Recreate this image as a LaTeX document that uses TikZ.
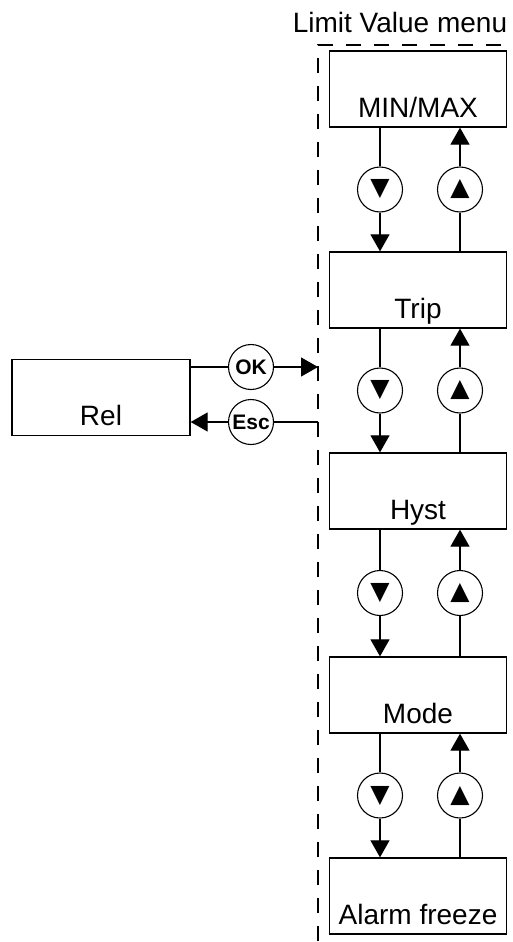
\documentclass[tikz,border=0pt]{standalone}
\usepackage{fontspec}
\setmainfont{Liberation Sans}
\newfontfamily\symfont{DejaVu Sans}
\usetikzlibrary{arrows.meta}

\begin{document}
\begin{tikzpicture}[x=1pt,y=-1pt,
  box/.style={draw,line width=1.3pt,minimum width=177pt,inner sep=0pt,
    text height=66pt,text depth=10pt,font=\fontsize{28}{30}\selectfont},
  key/.style={draw,circle,line width=1.1pt,minimum size=45pt,inner sep=0pt},
  conn/.style={line width=1.2pt},
  tip/.style={-{Triangle[length=17pt,width=19pt]}}]
  \useasboundingbox (0,0) rectangle (513,942);

  % menu frame
  \coordinate (frmB) at (318,941);
  \coordinate (frmL) at (318,45);
  \coordinate (frmR) at (507,45);
  \draw[line width=1.3pt,dash pattern=on 15pt off 13pt] (frmB) -- (frmL) -- (frmR);
  \node[font=\fontsize{28}{30}\selectfont,anchor=base] (title) at (400,33) {Limit Value menu};

  \foreach \n/\t/\y in {mm/{MIN/MAX}/89,trip/Trip/290,hyst/Hyst/491,mode/Mode/695,alarm/{Alarm freeze}/896}
    \node[box] (\n) at (418,\y) {\t};

  \coordinate (dnx) at (380,0);
  \coordinate (upx) at (460,0);
  \foreach \a/\b in {mm/trip,trip/hyst,hyst/mode,mode/alarm} {
    \path (\a.south) -- coordinate (m\a) (\b.north);
    \node[key,font=\symfont\fontsize{25}{26}\selectfont] (dn\a) at (dnx |- m\a) {▼};
    \node[key,font=\symfont\fontsize{25}{26}\selectfont] (up\a) at (upx |- m\a) {▲};
    \draw[conn,tip] (dnx |- \a.south) -- (dn\a) -- (dnx |- \b.north);
    \draw[conn,tip] (upx |- \b.north) -- (up\a) -- (upx |- \a.south);
  }

  % Rel and its keys
  \node[box,minimum width=178pt] (rel) at (101,397.5) {Rel};
  \node[key,font=\bfseries\fontsize{21}{22}\selectfont] (ok) at (251,367) {OK};
  \node[key,font=\bfseries\fontsize{21}{22}\selectfont] (esc) at (251,422) {Esc};
  \coordinate (mnuIn) at (318,367);
  \coordinate (mnuOut) at (318,422);
  \draw[conn] (rel.east |- ok) -- (ok);
  \draw[conn,tip] (ok) -- (mnuIn);
  \draw[conn] (mnuOut) -- (esc);
  \draw[conn,tip] (esc) -- (rel.east |- esc);
\end{tikzpicture}
\end{document}
